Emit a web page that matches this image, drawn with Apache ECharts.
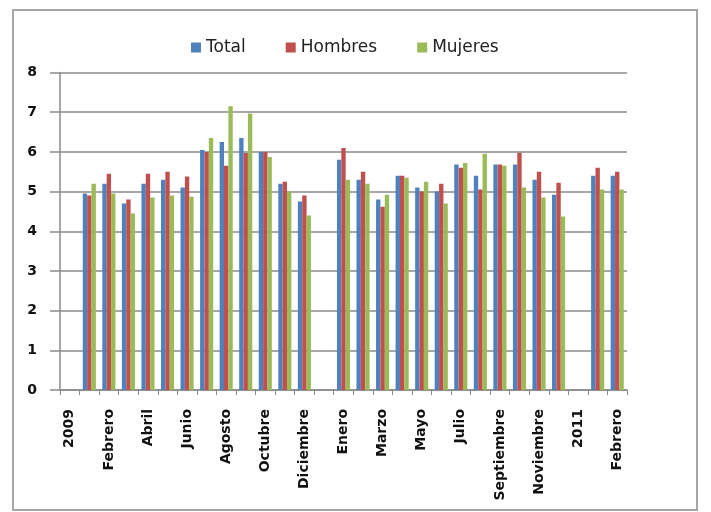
<!DOCTYPE html>
<html>
<head>
<meta charset="utf-8">
<script src="https://cdn.jsdelivr.net/npm/echarts@6/dist/echarts.min.js"></script>
<style>
  html, body { margin: 0; padding: 0; background: #fff; }
  #main { width: 711px; height: 512px; }
</style>
</head>
<body>
<div id="main"></div>
<script>
// meses 2009 - 2011, con una fila de año vacía antes de cada año
var categorias = ['2009', 'Enero', 'Febrero', 'Marzo', 'Abril', 'Mayo', 'Junio', 'Julio', 'Agosto',
  'Septiembre', 'Octubre', 'Noviembre', 'Diciembre',
  '2010', 'Enero', 'Febrero', 'Marzo', 'Abril', 'Mayo', 'Junio', 'Julio', 'Agosto',
  'Septiembre', 'Octubre', 'Noviembre', 'Diciembre',
  '2011', 'Enero', 'Febrero']

var total = [null, 4.95, 5.2, 4.7, 5.2, 5.3, 5.1, 6.05, 6.25, 6.35, 6.0, 5.2, 4.75,
  null, 5.8, 5.3, 4.8, 5.4, 5.1, 5.0, 5.68, 5.4, 5.68, 5.68, 5.3, 4.92,
  null, 5.4, 5.4]
var hombres = [null, 4.9, 5.45, 4.8, 5.45, 5.5, 5.38, 6.0, 5.65, 5.97, 6.0, 5.25, 4.9,
  null, 6.1, 5.5, 4.62, 5.4, 5.0, 5.2, 5.6, 5.05, 5.68, 5.98, 5.5, 5.22,
  null, 5.6, 5.5]
var mujeres = [null, 5.2, 4.95, 4.45, 4.85, 4.9, 4.87, 6.35, 7.15, 6.97, 5.87, 5.0, 4.4,
  null, 5.3, 5.2, 4.92, 5.35, 5.25, 4.7, 5.72, 5.95, 5.65, 5.1, 4.85, 4.37,
  null, 5.05, 5.05]

var yTicks = [0, 1, 2, 3, 4, 5, 6, 7, 8]

var chart = echarts.init(document.getElementById('main'))

var option = {
  animation: false,
  backgroundColor: '#fff',
  color: ['#4F81BD', '#C0504D', '#9BBB59'],
  graphic: [{
    type: 'rect',
    shape: { x: 13, y: 10, width: 684, height: 500 },
    style: { fill: 'none', stroke: '#a6a6a6', lineWidth: 2 },
    silent: true
  }],
  legend: {
    top: 34,
    left: 186,
    itemWidth: 10,
    itemHeight: 10,
    itemGap: 40,
    icon: 'rect',
    textStyle: { fontFamily: 'DejaVu Sans', fontSize: 17, color: '#222' },
    data: ['Total', 'Hombres', 'Mujeres']
  },
  grid: { left: 60, right: 84, top: 72.5, bottom: 122, containLabel: false },
  xAxis: {
    type: 'category',
    data: categorias,
    axisLine: { lineStyle: { color: '#8a8a8a', width: 1.5 } },
    axisTick: { show: true, interval: 0, length: 5, lineStyle: { color: '#8a8a8a' } },
    axisLabel: {
      interval: 1,
      rotate: 90,
      margin: 19,
      fontFamily: 'DejaVu Sans',
      fontWeight: 'bold',
      fontSize: 14,
      color: '#111'
    }
  },
  yAxis: {
    type: 'value',
    min: yTicks[0],
    max: yTicks[yTicks.length - 1],
    interval: 1,
    axisLine: { show: true, lineStyle: { color: '#8a8a8a', width: 1.5 } },
    axisTick: { show: true, length: 10, lineStyle: { color: '#8a8a8a', width: 1.5 } },
    splitLine: { lineStyle: { color: '#8a8a8a', width: 1.5 } },
    axisLabel: {
      margin: 23,
      fontFamily: 'DejaVu Sans',
      fontWeight: 'bold',
      fontSize: 14,
      color: '#111'
    }
  },
  series: [
    { name: 'Total', type: 'bar', data: total, barGap: '0%', barCategoryGap: '33%' },
    { name: 'Hombres', type: 'bar', data: hombres, barGap: '0%', barCategoryGap: '33%' },
    { name: 'Mujeres', type: 'bar', data: mujeres, barGap: '0%', barCategoryGap: '33%' }
  ]
}

chart.setOption(option)
</script>
</body>
</html>
